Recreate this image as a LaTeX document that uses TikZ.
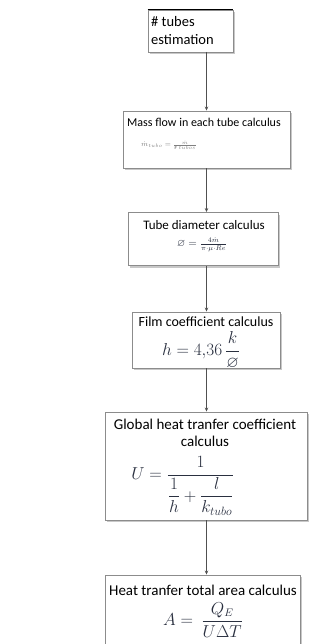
\documentclass[tikz,border=0pt]{standalone}
\usepackage{amsmath,amssymb}
\usepackage{fontspec}
\setmainfont{Carlito}
\usetikzlibrary{arrows.meta}
\definecolor{boxline}{HTML}{8C8C8C}
\definecolor{shadowc}{HTML}{C8C8C8}
\definecolor{conn}{HTML}{505050}
\definecolor{mathc}{HTML}{2A3040}
\tikzset{
  stepbox/.style={draw=boxline, line width=0.9pt, fill=white, rectangle, inner sep=0pt},
  shadowbox/.style={fill=shadowc, rectangle, inner sep=0pt, draw=none},
  title/.style={align=center, inner sep=0pt},
  formula/.style={text=mathc, inner sep=0pt},
  conn/.style={draw=conn, line width=0.9pt, -{Stealth[length=4pt,width=3.5pt]}}
}
\newcommand{\fsz}[1]{\fontsize{#1}{#1}\selectfont}
\begin{document}
\begin{tikzpicture}[x=1pt,y=-1pt]
\useasboundingbox (0,0) rectangle (326,644);
% box 1
\node[shadowbox, minimum width=85pt, minimum height=42pt] (s1) at (192,33) {};
\node[stepbox, minimum width=85pt, minimum height=42pt] (b1) at (190.5,31) {};
\draw[black, line width=1.6pt] (b1.north west) -- (b1.north east);
\node[title, align=left, anchor=west, font=\fontsize{14.5}{18}\selectfont] (t1) at (151,31) {\# tubes\\estimation};
% box 2
\node[shadowbox, minimum width=167pt, minimum height=57pt] (s2) at (208,141.5) {};
\node[stepbox, minimum width=167pt, minimum height=57pt] (b2) at (206.5,139.5) {};
\node[title, font=\fsz{12}] (t2) at (204,122) {Mass flow in each tube calculus};
\node[formula, text=gray, font=\scriptsize] (f2) at (169,145) {$\dot m_{tubo} = \frac{\dot m}{\#\ tubos}$};
% box 3
\node[shadowbox, minimum width=150pt, minimum height=53pt] (s3) at (204.5,241) {};
\node[stepbox, minimum width=150pt, minimum height=53pt] (b3) at (203,239) {};
\node[title, font=\fsz{13}] (t3) at (204,225) {Tube diameter calculus};
\node[formula, font=\fsz{10.5}] (f3) at (202,245) {$\varnothing = \frac{4\dot m}{\pi\cdot\mu\cdot Re}$};
% box 4
\node[shadowbox, minimum width=148pt, minimum height=56pt] (s4) at (207.5,342) {};
\node[stepbox, minimum width=148pt, minimum height=56pt] (b4) at (206,340) {};
\node[title, font=\fsz{14}] (t4) at (206,322) {Film coefficient calculus};
\node[formula, font=\fsz{16}] (f4) at (201,350) {$h = 4{,}36\,\dfrac{k}{\varnothing}$};
% box 5
\node[shadowbox, minimum width=202pt, minimum height=108pt] (s5) at (207.5,468) {};
\node[stepbox, minimum width=202pt, minimum height=108pt] (b5) at (206,466) {};
\node[title, font=\fontsize{15}{16.5}\selectfont] (t5) at (205,433) {Global heat tranfer coefficient\\calculus};
\node[formula, font=\fsz{16.5}] (f5) at (183,486) {$U = \dfrac{1}{\dfrac{1}{h}+\dfrac{l}{k_{tubo}}}$};
% box 6
\node[shadowbox, minimum width=195pt, minimum height=72pt] (s6) at (204,613) {};
\node[stepbox, minimum width=195pt, minimum height=72pt] (b6) at (202.5,611) {};
\node[title, font=\fsz{15}] (t6) at (203,590) {Heat tranfer total area calculus};
\node[formula, font=\fsz{16}] (f6) at (203,620) {$A =\ \dfrac{Q_E}{U\Delta T}$};
% connectors
\coordinate (c1) at (206.5,52);
\draw[conn] (c1) -- (b2.north);
\draw[conn] (b2.south) -- (b2.south |- b3.north);
\draw[conn] (b3.south -| b2.south) -- (b2.south |- b4.north);
\draw[conn] (b4.south -| b2.south) -- (b2.south |- b5.north);
\draw[conn] (b5.south -| b2.south) -- (b2.south |- b6.north);
\end{tikzpicture}
\end{document}
